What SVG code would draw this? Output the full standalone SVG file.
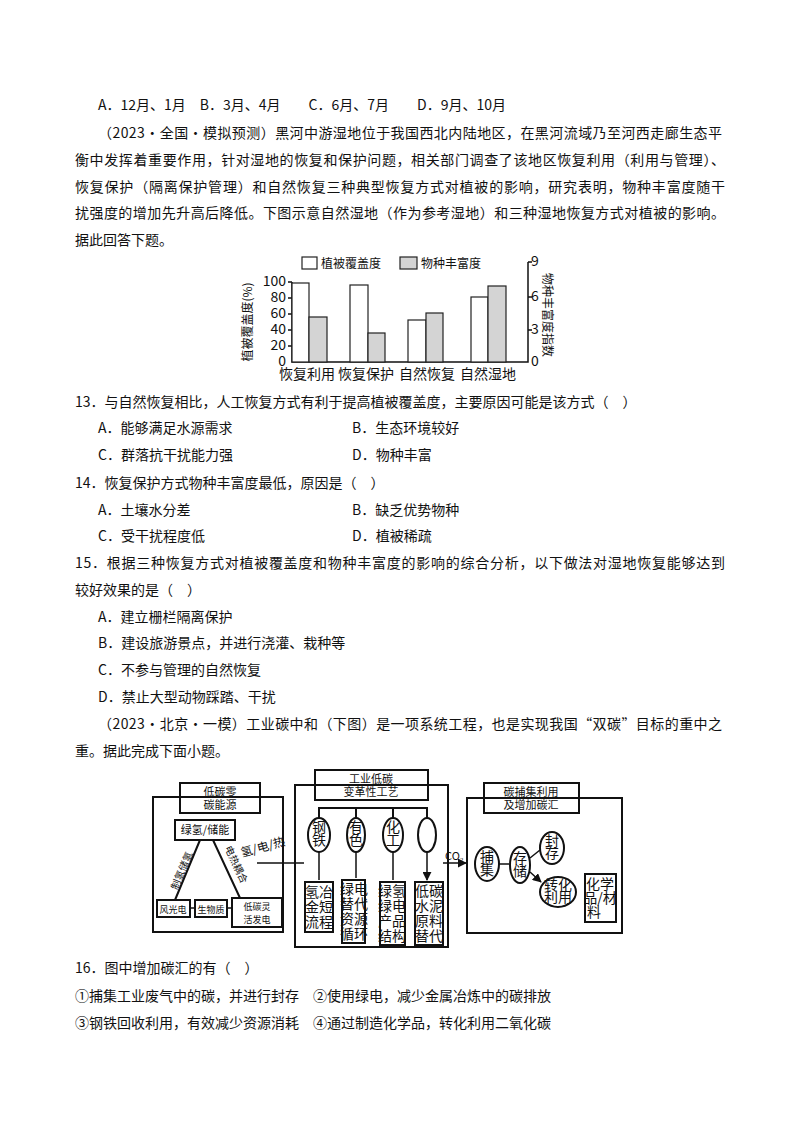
<svg xmlns="http://www.w3.org/2000/svg" width="800" height="1132" viewBox="0 0 800 1132">
<style>
text{font-family:"Noto Sans CJK SC","Liberation Serif",serif;font-size:14px;fill:#111}
.s{font-size:12px}
.t{font-size:11px}
.e{font-size:10px}
.b{fill:none;stroke:#111;stroke-width:2}
.l{fill:none;stroke:#111;stroke-width:1.5}
.w{fill:#fff;stroke:#222;stroke-width:1.2}
.g{fill:#d4d4d4;stroke:#222;stroke-width:1.2}
</style>
<defs><marker id="a" viewBox="0 0 10 10" refX="9" refY="5" markerWidth="6" markerHeight="6" orient="auto"><path d="M0,0L10,5L0,10z" fill="#111"/></marker></defs>
<rect width="800" height="1132" fill="#fff"/>
<text x="98" y="110">A．12月、1月　B．3月、4月　　C．6月、7月　　D．9月、10月</text>
<text x="98" y="138" textLength="624" lengthAdjust="spacing">（2023·全国·模拟预测）黑河中游湿地位于我国西北内陆地区，在黑河流域乃至河西走廊生态平</text>
<text x="75" y="165" textLength="650" lengthAdjust="spacing">衡中发挥着重要作用，针对湿地的恢复和保护问题，相关部门调查了该地区恢复利用（利用与管理）、</text>
<text x="75" y="192" textLength="650" lengthAdjust="spacing">恢复保护（隔离保护管理）和自然恢复三种典型恢复方式对植被的影响，研究表明，物种丰富度随干</text>
<text x="75" y="218" textLength="650" lengthAdjust="spacing">扰强度的增加先升高后降低。下图示意自然湿地（作为参考湿地）和三种湿地恢复方式对植被的影响。</text>
<text x="75" y="245">据此回答下题。</text>
<g id="chart">
<rect class="w" x="302" y="257" width="15" height="12"/><text x="321" y="268" class="s">植被覆盖度</text>
<rect class="g" x="400" y="257" width="17" height="12"/><text x="421" y="268" class="s">物种丰富度</text>
<path class="l" d="M292,282V362H528V262M288,282h4M288,298h4M288,314h4M288,330h4M288,346h4M528,262h4M528,297h4M528,330h4" stroke-width="1.2"/>
<g class="t" text-anchor="end"><text x="286" y="286">100</text><text x="286" y="302">80</text><text x="286" y="318">60</text><text x="286" y="334">40</text><text x="286" y="350">20</text><text x="286" y="366">0</text></g>
<g class="t"><text x="531" y="266">9</text><text x="531" y="301">6</text><text x="531" y="334">3</text><text x="531" y="366">0</text></g>
<rect class="w" x="292" y="283" width="17" height="79"/><rect class="g" x="309" y="317" width="18" height="45"/>
<rect class="w" x="350" y="285" width="18" height="77"/><rect class="g" x="368" y="333" width="17" height="29"/>
<rect class="w" x="408" y="320" width="18" height="42"/><rect class="g" x="426" y="313" width="17" height="49"/>
<rect class="w" x="471" y="297" width="17" height="65"/><rect class="g" x="488" y="286" width="18" height="76"/>
<g class="s" text-anchor="middle"><text x="307" y="379">恢复利用</text><text x="366" y="379">恢复保护</text><text x="427" y="379">自然恢复</text><text x="488" y="379">自然湿地</text></g>
<text class="s" transform="translate(252,322) rotate(-90)" text-anchor="middle">植被覆盖度(%)</text>
<text class="s" transform="translate(543,315) rotate(90)" text-anchor="middle">物种丰富度指数</text>
</g>
<text x="75" y="407">13．与自然恢复相比，人工恢复方式有利于提高植被覆盖度，主要原因可能是该方式（　）</text>
<text x="98" y="433">A．能够满足水源需求</text><text x="352" y="433">B．生态环境较好</text>
<text x="98" y="460">C．群落抗干扰能力强</text><text x="352" y="460">D．物种丰富</text>
<text x="75" y="488">14．恢复保护方式物种丰富度最低，原因是（　）</text>
<text x="98" y="515">A．土壤水分差</text><text x="352" y="515">B．缺乏优势物种</text>
<text x="98" y="541">C．受干扰程度低</text><text x="352" y="541">D．植被稀疏</text>
<text x="75" y="568" textLength="650" lengthAdjust="spacing">15．根据三种恢复方式对植被覆盖度和物种丰富度的影响的综合分析，以下做法对湿地恢复能够达到</text>
<text x="75" y="595">较好效果的是（　）</text>
<text x="98" y="622">A．建立栅栏隔离保护</text>
<text x="98" y="648">B．建设旅游景点，并进行浇灌、栽种等</text>
<text x="98" y="675">C．不参与管理的自然恢复</text>
<text x="98" y="702">D．禁止大型动物踩踏、干扰</text>
<text x="98" y="729" textLength="624" lengthAdjust="spacing">（2023·北京·一模）工业碳中和（下图）是一项系统工程，也是实现我国“双碳”目标的重中之</text>
<text x="75" y="756">重。据此完成下面小题。</text>
<g id="left">
<rect class="b" x="153" y="797" width="130" height="135"/>
<rect class="b" x="180" y="783" width="80" height="30" fill="#fff"/>
<text class="t" x="220" y="796" text-anchor="middle">低碳零</text><text class="t" x="220" y="809" text-anchor="middle">碳能源</text>
<rect class="b" x="175" y="820" width="60" height="20"/><text class="t" x="205" y="834" text-anchor="middle">绿氢/储能</text>
<path class="b" d="M200,840L175,900M213,840L240,898"/>
<text class="e" transform="translate(185,872) rotate(-67)" text-anchor="middle">制氢储氢</text>
<text class="e" transform="translate(233,866) rotate(65)" text-anchor="middle">电热耦合</text>
<rect class="b" x="157" y="900" width="33" height="17"/><text x="173" y="913" text-anchor="middle" style="font-size:9px">风光电</text>
<rect class="b" x="195" y="900" width="32" height="17"/><text x="211" y="913" text-anchor="middle" style="font-size:9px">生物质</text>
<rect class="b" x="232" y="898" width="50" height="29"/><text x="257" y="910" text-anchor="middle" style="font-size:9px">低碳灵</text><text x="257" y="923" text-anchor="middle" style="font-size:9px">活发电</text>
<path class="l" d="M190,908h5M227,908h5"/>
</g>
<g id="mid">
<rect class="b" x="295" y="785" width="153" height="162"/>
<rect class="b" x="315" y="770" width="113" height="30" fill="#fff"/>
<text class="t" x="371" y="783" text-anchor="middle">工业低碳</text><text class="t" x="371" y="796" text-anchor="middle">变革性工艺</text>
<path class="b" d="M319,818V808H427V818M356,808v10M393,808v10"/>
<ellipse class="b" cx="319" cy="835" rx="11" ry="17"/><ellipse class="b" cx="356" cy="835" rx="9" ry="17"/><ellipse class="b" cx="393" cy="835" rx="10" ry="17"/><ellipse class="b" cx="427" cy="835" rx="9" ry="17"/>
<g class="e" text-anchor="middle"><text x="319" y="832">钢</text><text x="319" y="845">铁</text><text x="356" y="832">有</text><text x="356" y="845">色</text><text x="393" y="832">化</text><text x="393" y="845">工</text></g>
<path class="l" d="M319,852V880M356,852V878M393,852V880M427,852V880" marker-end="url(#a)"/>
<rect class="b" x="305" y="882" width="28" height="50"/><rect class="b" x="342" y="880" width="23" height="63"/><rect class="b" x="380" y="882" width="25" height="63"/><rect class="b" x="415" y="882" width="28" height="63"/>
<g class="t" text-anchor="middle">
<text x="319" y="897">氢冶</text><text x="319" y="912">金短</text><text x="319" y="927">流程</text>
<text x="354" y="894">绿电</text><text x="354" y="909">替代</text><text x="354" y="924">资源</text><text x="354" y="939">循环</text>
<text x="392" y="896">绿氢</text><text x="392" y="911">绿电</text><text x="392" y="926">产品</text><text x="392" y="941">结构</text>
<text x="429" y="896">低碳</text><text x="429" y="911">水泥</text><text x="429" y="926">原料</text><text x="429" y="941">替代</text>
</g>
</g>
<g id="right">
<rect class="b" x="467" y="798" width="155" height="135"/>
<rect class="b" x="484" y="783" width="95" height="30" fill="#fff"/>
<text class="t" x="531" y="796" text-anchor="middle">碳捕集利用</text><text class="t" x="531" y="809" text-anchor="middle">及增加碳汇</text>
<ellipse class="b" cx="487" cy="864" rx="12" ry="17"/><ellipse class="b" cx="520" cy="865" rx="10" ry="18"/><ellipse class="b" cx="552" cy="848" rx="12" ry="16"/><ellipse class="b" cx="558" cy="892" rx="18" ry="15"/>
<rect class="b" x="585" y="874" width="31" height="48"/>
<g class="e" text-anchor="middle">
<text x="487" y="862">捕</text><text x="487" y="875">集</text><text x="520" y="863">存</text><text x="520" y="876">储</text>
<text x="552" y="846">封</text><text x="552" y="858">存</text><text x="558" y="890">转化</text><text x="558" y="902">利用</text>
</g>
<g class="t" text-anchor="middle"><text x="600" y="889">化学</text><text x="600" y="903">品/材</text><text x="594" y="917">料</text></g>
<path class="l" d="M499,864H509M530,858L540,850M530,872L541,882" marker-end="url(#a)"/>
</g>
<g id="connectors">
<path class="l" d="M257,863H304M443,863H466" marker-end="url(#a)"/>
<text class="s" transform="translate(242,857) rotate(-15)">氢/电/热</text>
<text class="t" x="445" y="860">CO₂</text>
</g>
<text x="75" y="973">16．图中增加碳汇的有（　）</text>
<text x="75" y="1001">①捕集工业废气中的碳，并进行封存　②使用绿电，减少金属冶炼中的碳排放</text>
<text x="75" y="1028">③钢铁回收利用，有效减少资源消耗　④通过制造化学品，转化利用二氧化碳</text>
</svg>
